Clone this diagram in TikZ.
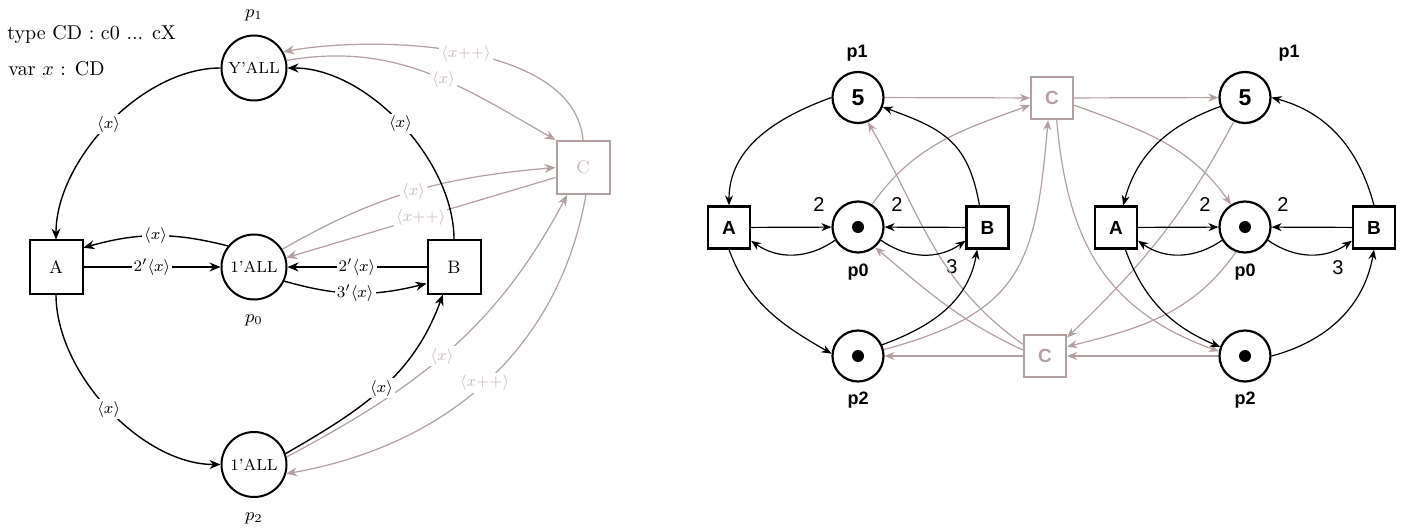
\documentclass[tikz,border=0pt]{standalone}
\usepackage{fontspec}
\usepackage{amsmath}
\usepackage{tikz}
\usetikzlibrary{arrows.meta,positioning}
\newfontfamily\helv{Liberation Sans}
\definecolor{cgray}{HTML}{B4A0A0}
\definecolor{cgrayL}{HTML}{CBBBBB}
\tikzset{
  lnode/.style={draw, line width=1pt, inner sep=0pt, font=\footnotesize},
  lplace/.style={lnode, circle, minimum size=32.5pt},
  ltrans/.style={lnode, rectangle, minimum size=26.5pt, font=\small},
  lgtrans/.style={ltrans, draw=cgray, text=cgrayL},
  lbl/.style={fill=white, inner sep=1pt, font=\footnotesize},
  glbl/.style={lbl, text=cgrayL},
  plbl/.style={inner sep=0pt, font=\small},
  lflow/.style={-{Stealth[length=5.5pt,width=4.5pt,inset=1.8pt]}, line width=0.7pt},
  lgflow/.style={lflow, draw=cgray, line width=0.6pt},
  rnode/.style={draw, line width=1.1pt, inner sep=0pt,
                font=\fontsize{9.5}{11}\selectfont\helv\bfseries},
  rplace/.style={rnode, circle, minimum size=25.5pt},
  rtok/.style={rplace, path picture={\fill (path picture bounding box.center) circle (3pt);}},
  rtrans/.style={rnode, rectangle, minimum size=21pt},
  rgtrans/.style={rtrans, draw=cgray, text=cgray},
  rlbl/.style={inner sep=0pt, font=\fontsize{9}{11}\selectfont\helv\bfseries},
  wlbl/.style={inner sep=0pt, font=\fontsize{10}{12}\selectfont\helv},
  rflow/.style={-{Stealth[length=5pt,width=4pt,inset=1.6pt]}, line width=0.6pt},
  rgflow/.style={rflow, draw=cgray},
}
\begin{document}
\begin{tikzpicture}[x=0.5pt, y=0.5pt]
  \useasboundingbox (0,0) rectangle (1407,-529);
  % colored net
  \node[anchor=base west, inner sep=0pt] (decl1) at (7,-40) {type CD : c0 ... cX};
  \node[anchor=base west, inner sep=0pt] (decl2) at (8,-76) {var $x$ : CD};
  \node[lplace] (lp1) at (254,-68) {Y'ALL};
  \node[lplace] (lp0) at (254,-267) {1'ALL};
  \node[lplace] (lp2) at (254,-464.5) {1'ALL};
  \node[plbl] (lp1n) at (254,-15) {$p_1$};
  \node[plbl] (lp0n) at (254,-320) {$p_0$};
  \node[plbl] (lp2n) at (254,-518) {$p_2$};
  \node[ltrans] (lA) at (56,-267) {A};
  \node[ltrans] (lB) at (454,-267) {B};
  \node[lgtrans] (lC) at (583,-167.5) {C};
  \draw[lgflow] (lC.north) to[out=95,in=10,looseness=.8] node[glbl] (g1) {$\langle x{+}{+}\rangle$} (lp1.29);
  \draw[lgflow] (lp1.13) to[out=10,in=150] node[glbl,pos=.57] (g2) {$\langle x\rangle$} (lC.north west);
  \draw[lgflow] (lp0.32) to[out=30,in=185] node[glbl] (g3) {$\langle x\rangle$} (lC.west);
  \draw[lgflow] (lC.-160) -- node[glbl] (g4) {$\langle x{+}{+}\rangle$} (lp0.16);
  \draw[lgflow] (lp2.13) to[out=28,in=-118] node[glbl,pos=.47] (g5) {$\langle x\rangle$} (lC.-120);
  \draw[lgflow] (lC.-84) to[out=-100,in=10] node[glbl] (g6) {$\langle x{+}{+}\rangle$} (lp2.-16);
  \draw[lflow] (lp1.west) to[out=180,in=90,looseness=.85] node[lbl] (b1) {$\langle x\rangle$} (lA.north);
  \draw[lflow] (lB.north) to[out=90,in=0,looseness=.85] node[lbl] (b2) {$\langle x\rangle$} (lp1.east);
  \draw[lflow] (lA) -- node[lbl] (b3) {$2'\langle x\rangle$} (lp0);
  \draw[lflow] (lp0.141) to[bend right=15] node[lbl] (b4) {$\langle x\rangle$} (lA.35);
  \draw[lflow] (lB) -- node[lbl] (b5) {$2'\langle x\rangle$} (lp0);
  \draw[lflow] (lp0.-25) to[bend right=15] node[lbl] (b6) {$3'\langle x\rangle$} (lB.-149);
  \draw[lflow] (lA.south) to[out=-90,in=180,looseness=.85] node[lbl] (b7) {$\langle x\rangle$} (lp2.west);
  \draw[lflow] (lp2.19) to[out=30,in=-110] node[lbl] (b8) {$\langle x\rangle$} (lB.-112);
  % unfolded net
  \node[rplace] (pL1) at (858,-97.5) {\fontsize{11.5}{13}\selectfont 5};
  \node[rtok] (pL0) at (858,-227) {};
  \node[rtok] (pL2) at (858,-356) {};
  \node[rtrans] (aL) at (729,-227.5) {A};
  \node[rtrans] (bL) at (987.5,-227.5) {B};
  \node[rplace] (pR1) at (1245,-97.5) {\fontsize{11.5}{13}\selectfont 5};
  \node[rtok] (pR0) at (1245,-227) {};
  \node[rtok] (pR2) at (1245,-356) {};
  \node[rtrans] (aR) at (1116,-227.5) {A};
  \node[rtrans] (bR) at (1374,-227.5) {B};
  \node[rgtrans] (cT) at (1052,-98) {C};
  \node[rgtrans] (cB) at (1045,-356) {C};
  \node[rlbl] (pL1n) at (857,-53) {p1};
  \node[rlbl] (pL0n) at (858,-272) {p0};
  \node[rlbl] (pL2n) at (858,-400) {p2};
  \node[rlbl] (pR1n) at (1289,-53) {p1};
  \node[rlbl] (pR0n) at (1245,-272) {p0};
  \node[rlbl] (pR2n) at (1245,-400) {p2};
  \node[wlbl] (wL1) at (819,-205) {2};
  \node[wlbl] (wL2) at (897,-205) {2};
  \node[wlbl] (wL3) at (952,-267) {3};
  \node[wlbl] (wR1) at (1205,-205) {2};
  \node[wlbl] (wR2) at (1283,-205) {2};
  \node[wlbl] (wR3) at (1338,-268) {3};
  \draw[rgflow] (pL1) -- (cT);
  \draw[rgflow] (pL0.58) to[out=55,in=200] (cT.-162);
  \draw[rgflow] (cB.152) to[out=145,in=-60] (pL1.-68);
  \draw[rgflow] (cB.165) to[out=155,in=-40] (pL0.-50);
  \draw[rgflow] (cB) -- (pL2);
  \draw[rgflow] (pL2.14) to[out=15,in=-95,looseness=1.3] (cT.-100);
  \draw[rgflow] (cT) -- (pR1);
  \draw[rgflow] (cT.-18) to[out=-20,in=125] (pR0.122);
  \draw[rgflow] (cT.-78) to[out=-85,in=160,looseness=1.1] (pR2.170);
  \draw[rgflow] (pR1.-115) to[out=-118,in=44] (cB.40);
  \draw[rgflow] (pR0.-110) to[out=-125,in=14] (cB.23);
  \draw[rgflow] (pR2) -- (cB);
  \draw[rflow] (pL1.west) to[out=200,in=90] (aL.north);
  \draw[rflow] (bL.110) to[out=100,in=-20,looseness=1.2] (pL1.-21);
  \draw[rflow] (aL) -- (pL0);
  \draw[rflow] (pL0.210) to[out=215,in=-35] (aL.-31);
  \draw[rflow] (bL) -- (pL0);
  \draw[rflow] (pL0.-30) to[out=-35,in=215] (bL.-149);
  \draw[rflow] (aL.south) to[out=-70,in=150] (pL2.175);
  \draw[rflow] (pL2.25) to[out=20,in=-100] (bL.-115);
  \draw[rflow] (pR1.-160) to[out=200,in=75] (aR.72);
  \draw[rflow] (bR.north) to[out=105,in=-15] (pR1.east);
  \draw[rflow] (aR) -- (pR0);
  \draw[rflow] (pR0.210) to[out=215,in=-35] (aR.-31);
  \draw[rflow] (bR) -- (pR0);
  \draw[rflow] (pR0.-30) to[out=-35,in=215] (bR.-149);
  \draw[rflow] (aR.-67) to[out=-70,in=157] (pR2.160);
  \draw[rflow] (pR2.east) to[out=15,in=-100] (bR.south);
\end{tikzpicture}
\end{document}
